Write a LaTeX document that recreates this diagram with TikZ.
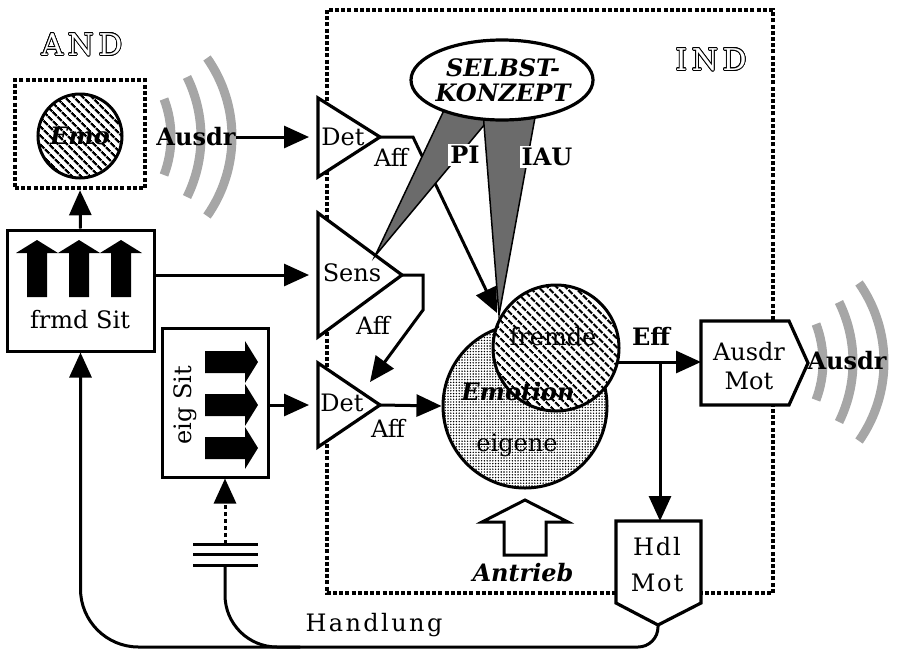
\documentclass[tikz,border=0pt]{standalone}
\usepackage{fontspec}
\setmainfont{DejaVu Serif}
\usepackage[copies]{contour}
\contourlength{0.8pt}
\usetikzlibrary{arrows.meta,patterns.meta}

\begin{document}
\begin{tikzpicture}[x=1pt,y=-1pt,
  rope/.style={line width=4.5pt,dash pattern=on 4pt off 2.2pt},
  ln/.style={line width=3pt,line join=miter},
  arr/.style={ln,-{Triangle[length=25pt,width=22pt]}},
  shp/.style={draw,fill=white,line width=3.2pt,line join=miter},
  txt/.style={inner sep=0pt,font=\fontsize{24}{29}\selectfont},
  btxt/.style={inner sep=0pt,font=\fontsize{24}{29}\selectfont\bfseries},
  bitxt/.style={inner sep=0pt,font=\fontsize{24}{25}\selectfont\bfseries\itshape},
  outl/.style={inner sep=0pt,text=white,font=\fontsize{30}{30}\selectfont\addfontfeature{LetterSpace=15}},
  hatch/.style={pattern={Lines[angle=-45,distance=6.5pt,line width=2.4pt]}},
  stip/.style={pattern={Dots[radius=0.8pt,distance=2.8pt]}},
  wavefill/.style={fill=black!35},
  dark/.style={fill=black!58}
]
\useasboundingbox (0,0) rectangle (900,654);

% IND frame
\draw[rope] (327,10) rectangle (773,593);
\node[outl] (ind) at (711,60) {\contour{black}{IND}};
\node[outl] (and) at (82,45) {\contour{black}{AND}};

% AND side
\node[rope,draw,minimum width=130,minimum height=108] (andbox) at (80,134) {};
\node[circle,draw,ln,hatch,minimum size=84] (emocirc) at (80,136) {};
\node[bitxt] (emo) at (80,136) {Emo};

\foreach \cx/\cy in {171/137,823/362}
  \foreach \dx/\sg/\hh in {0/7/38,30/14/60,61/25/79}{
    \pgfmathsetmacro\rr{(\sg*\sg+\hh*\hh)/(2*\sg)}
    \pgfmathsetmacro\ph{asin(\hh/\rr)}
    \pgfmathsetmacro\mx{\cx+\dx-\rr}
    \fill[wavefill] (\mx,\cy) ++(-\ph:\rr+4.5) arc[start angle=-\ph,end angle=\ph,radius=\rr+4.5]
      -- ++(\ph:-9) arc[start angle=\ph,end angle=-\ph,radius=\rr-4.5] -- cycle;
  }
\node[btxt] (ausdrL) at (196,137) {Ausdr};
\node[btxt] (ausdrR) at (847,361) {Ausdr};

% situations
\node[draw,ln,minimum width=147,minimum height=121] (frmd) at (80.5,290.5) {};
\foreach \c in {37,79,121}
  \fill (\c-10,297) -- (\c-10,253) -- (\c-21,253) -- (\c,240) -- (\c+21,253) -- (\c+10,253) -- (\c+10,297) -- cycle;
\node[txt] (frmdlbl) at (80,320) {frmd Sit};

\node[draw,ln,minimum width=106,minimum height=149] (eig) at (215,402.5) {};
\foreach \c in {362,405,448}
  \fill (205,\c-11) -- (245,\c-11) -- (245,\c-21) -- (258,\c) -- (245,\c+21) -- (245,\c+11) -- (205,\c+11) -- cycle;
\node[txt,rotate=90] (eiglbl) at (185,405) {eig Sit};

% detectors
\draw[shp] (318,98) -- (380,137) coordinate (detAtip) -- (318,177) -- cycle;
\draw[shp] (318,213) -- (402,275) coordinate (sensTip) -- (318,337) -- cycle;
\draw[shp] (318,363) -- (380,405) coordinate (detBtip) -- (318,447) -- cycle;
\coordinate (detAin) at (309,137);
\coordinate (sensIn) at (309,275);
\coordinate (detBin) at (309,405);
\node[txt] (detA) at (343,137) {Det};
\node[txt] (affA) at (391,157) {Aff};
\node[txt] (sens) at (352,273) {Sens};
\node[txt] (affS) at (373,325) {Aff};
\node[txt] (detB) at (342,403) {Det};
\node[txt] (affB) at (388,428) {Aff};

% emotion
\node[circle,draw,ln,stip,minimum size=164] (eigene) at (525,406) {};
\node[circle,draw,ln,hatch,preaction={fill=white},minimum size=126] (fremde) at (556,348) {};
\node[txt] (fremdelbl) at (553,337) {fremde};
\node[bitxt] (emotion) at (518,392) {Emotion};
\node[txt] (eigenelbl) at (517,445) {eigene};

\coordinate (affAknee) at (413,137);
\coordinate (fremdeIn) at (497,313);
\coordinate (sensK1) at (423,275);
\coordinate (sensK2) at (423,310);
\coordinate (detBtop) at (370,382);
\draw[arr] (detAtip) -- (affAknee) -- (fremdeIn);
\draw[arr] (sensTip) -- (sensK1) -- (sensK2) -- (detBtop);
\draw[arr] (detBtip) -- (eigene.west);
\draw[arr] (ausdrL.east) -- (detAin);
\draw[arr] (frmd.east |- sensIn) -- (sensIn);
\draw[arr] (eig.east |- detBin) -- (detBin);
\draw[arr] (frmd.north) -- (andbox.south);

% self concept
\draw[dark,line width=1.5pt] (446,106) -- (495,112) -- (375,256) -- cycle;
\draw[dark,line width=1.5pt] (483,112) -- (536,112) -- (499,315) -- cycle;
\draw[shp] (502,80) ellipse[x radius=91,y radius=40];
\node[bitxt,align=center] (selbst) at (503,80) {SELBST-\\KONZEPT};
\node[btxt,fill=white,inner sep=2pt] (pi) at (465,155) {PI};
\node[btxt,fill=white,inner sep=2pt] (iau) at (547,157) {IAU};

% outputs
\draw[shp] (701,321) -- (789,321) -- (808,363) -- (789,405) -- (701,405) -- cycle;
\node[txt,align=center] (ausdrmot) at (749,366) {Ausdr\\Mot};
\draw[shp] (616,521) -- (701,521) -- (701,603) -- (658,625) coordinate (hdltip) -- (616,603) -- cycle;
\node[txt,align=center,font=\fontsize{24}{36}\selectfont\addfontfeature{LetterSpace=8}] (hdlmot) at (657,565) {Hdl\\Mot};
\coordinate (effA) at (617,362);
\coordinate (effB) at (660,362);
\coordinate (ausdrmotIn) at (701,362);
\coordinate (hdlIn) at (660,521);
\draw[ln] (effA) -- (effB);
\draw[arr] (effB) -- (ausdrmotIn);
\draw[arr] (effB) -- (hdlIn);
\node[btxt] (eff) at (651,336) {Eff};

\draw[ln] (504,555) -- (504,522) -- (482,522) -- (525,500) coordinate (antriebTip) -- (568,522) -- (546,522) -- (546,555) -- cycle;
\node[bitxt] (antrieb) at (523,573) {Antrieb};

% Handlung loop
\coordinate (hmid) at (300,647);
\coordinate (gndTop) at (225,544);
\coordinate (gndBot) at (225,565);
\draw[ln,rounded corners=20pt] (hdltip) -- (hdltip |- hmid) -- (hmid);
\draw[arr,rounded corners=58pt] (hmid) -- (frmd.south |- hmid) -- (frmd.south);
\draw[ln,rounded corners=52pt] (hmid) -- (gndBot |- hmid) -- (gndBot);
\foreach \yy in {544,554,565} \draw[ln] (193,\yy) -- (258,\yy);
\draw[ln,dash pattern=on 4pt off 3pt,-{Triangle[length=25pt,width=22pt]}] (gndTop) -- (gndTop |- eig.south);
\node[txt,font=\fontsize{24}{29}\selectfont\addfontfeature{LetterSpace=10}] (handlung) at (374,625) {Handlung};
\end{tikzpicture}
\end{document}
